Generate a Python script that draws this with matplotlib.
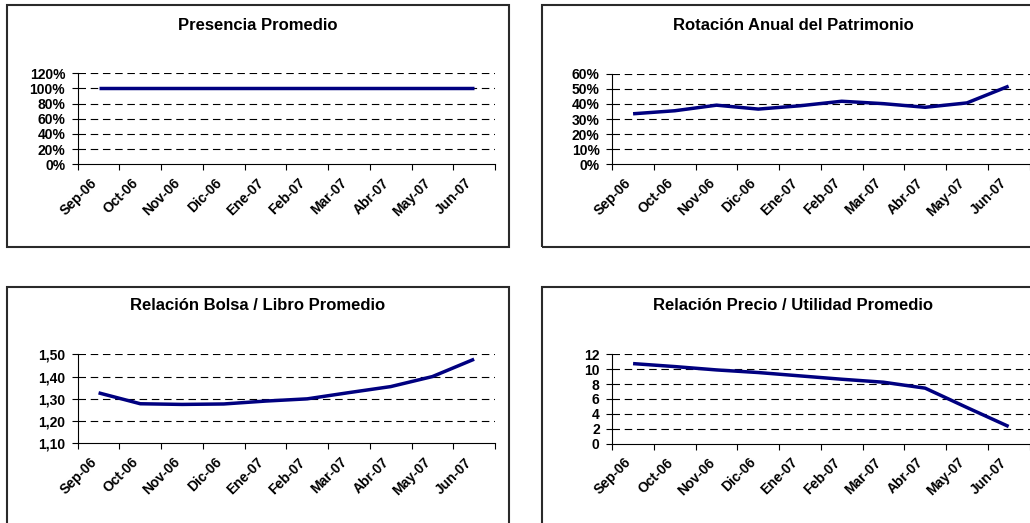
import matplotlib
matplotlib.use("Agg")
import matplotlib.pyplot as plt
from matplotlib.patches import Rectangle
from matplotlib.ticker import FixedLocator, FuncFormatter
from matplotlib.transforms import ScaledTranslation

plt.rcParams['font.family'] = ['Liberation Sans', 'DejaVu Sans']
plt.rcParams['font.weight'] = 'bold'
plt.rcParams['lines.scale_dashes'] = False

# Monthly categories
months = ["Sep-06", "Oct-06", "Nov-06", "Dic-06", "Ene-07",
          "Feb-07", "Mar-07", "Abr-07", "May-07", "Jun-07"]

# Series values
presencia = [1.00, 1.00, 1.00, 1.00, 1.00, 1.00, 1.00, 1.00, 1.00, 1.00]
rotacion = [0.335, 0.355, 0.392, 0.366, 0.388, 0.418, 0.402, 0.378, 0.407, 0.518]
bolsa_libro = [1.327, 1.278, 1.275, 1.277, 1.290, 1.300, 1.328, 1.355, 1.400, 1.478]
precio_utilidad = [10.75, 10.35, 9.90, 9.55, 9.10, 8.65, 8.25, 7.45, 4.85, 2.30]

titles = ["Presencia Promedio", "Rotación Anual del Patrimonio",
          "Relación Bolsa / Libro Promedio", "Relación Precio / Utilidad Promedio"]

# y-axis ticks for each panel
ticks_presencia = [0.0, 0.2, 0.4, 0.6, 0.8, 1.0, 1.2]
ticks_rotacion = [0.0, 0.1, 0.2, 0.3, 0.4, 0.5, 0.6]
ticks_bolsa = [1.1, 1.2, 1.3, 1.4, 1.5]
ticks_precio = [0, 2, 4, 6, 8, 10, 12]

W, H = 1030, 523
fig = plt.figure(figsize=(W / 100, H / 100), dpi=100)
fig.patch.set_facecolor("white")

LINE_COLOR = "#000080"


def px_rect(x0, y0, x1, y1):
    """Convert pixel box (top-left origin) to figure fraction [l, b, w, h]."""
    return [x0 / W, 1 - y1 / H, (x1 - x0) / W, (y1 - y0) / H]


def pct(v, _):
    return f"{v * 100:.0f}%"


def comma2(v, _):
    return f"{v:.2f}".replace(".", ",")


def integer(v, _):
    return f"{v:.0f}"


panels = [
    # box (px), axes (px), data, ticks, formatter, title centre y
    ((6.7, 5, 509, 246.7), (77.7, 73.3, 495, 164.3), presencia, ticks_presencia, pct, 25),
    ((541.7, 5, 1100, 246.7), (612.2, 73.8, 1029.5, 164.3), rotacion, ticks_rotacion, pct, 25),
    ((6.7, 286.7, 509, 700), (77.7, 354.3, 495, 443.4), bolsa_libro, ticks_bolsa, comma2, 305),
    ((541.7, 286.7, 1100, 700), (612.2, 354.3, 1029.5, 443.6), precio_utilidad, ticks_precio, integer, 305),
]

for (box, axbox, values, yt, fmt, ty), title in zip(panels, titles):
    bx0, by0, bx1, by1 = box
    fig.add_artist(Rectangle((bx0 / W, 1 - by1 / H), (bx1 - bx0) / W, (by1 - by0) / H,
                             transform=fig.transFigure, fill=False,
                             edgecolor="#2a2a2a", linewidth=1.5))
    ax = fig.add_axes(px_rect(*axbox))
    ax.set_facecolor("none")
    n = len(months)
    xs = [i + 0.5 for i in range(n)]
    ax.set_xlim(0, n)
    ax.set_ylim(yt[0], yt[-1])

    # dashed horizontal gridlines
    for v in yt[1:]:
        ax.axhline(v, color="black", linewidth=0.8, linestyle=(0, (5.4, 3.4)), zorder=1)

    ax.plot(xs, values, color=LINE_COLOR, linewidth=2.5, solid_joinstyle="round",
            solid_capstyle="butt", zorder=3)

    for side in ("top", "right"):
        ax.spines[side].set_visible(False)
    for side in ("left", "bottom"):
        ax.spines[side].set_linewidth(0.8)
        ax.spines[side].set_color("black")

    ax.xaxis.set_major_locator(FixedLocator(list(range(n + 1))))
    ax.xaxis.set_major_formatter(FuncFormatter(lambda v, _: ""))
    ax.tick_params(axis="x", direction="out", length=4, width=0.8, color="black")

    ax.yaxis.set_major_locator(FixedLocator(yt))
    ax.yaxis.set_major_formatter(FuncFormatter(fmt))
    ax.tick_params(axis="y", direction="out", length=4, width=0.8, color="black",
                   pad=5, labelsize=10)
    for lab in ax.get_yticklabels():
        lab.set_fontweight("bold")

    # rotated category labels
    off = ScaledTranslation(-3 / 72, -12 / 72, fig.dpi_scale_trans)
    tr = ax.get_xaxis_transform() + off
    for x, m in zip(xs, months):
        ax.text(x, 0, m, transform=tr, rotation=45, rotation_mode="anchor",
                ha="right", va="center", fontsize=10, fontweight="bold")

    fig.text(((bx0 + min(bx1, 2 * 793 - bx0 if bx0 > 500 else bx1)) / 2) / W, 1 - ty / H,
             title, ha="center", va="center", fontsize=12, fontweight="bold")

fig.savefig("out.png", dpi=100)
